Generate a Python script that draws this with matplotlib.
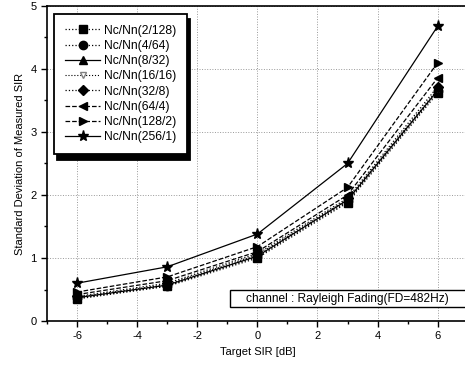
import matplotlib
matplotlib.use("Agg")
import matplotlib.pyplot as plt
from matplotlib.ticker import MultipleLocator
from matplotlib.patches import Rectangle

plt.rcParams['font.family'] = ['Liberation Sans', 'DejaVu Sans']
plt.rcParams['axes.unicode_minus'] = False

target_sir = [-6, -3, 0, 3, 6]
labels = ['Nc/Nn(2/128)', 'Nc/Nn(4/64)', 'Nc/Nn(8/32)', 'Nc/Nn(16/16)',
          'Nc/Nn(32/8)', 'Nc/Nn(64/4)', 'Nc/Nn(128/2)', 'Nc/Nn(256/1)']
sd_2_128 = [0.35, 0.55, 1.00, 1.88, 3.62]
sd_4_64 = [0.36, 0.56, 1.02, 1.90, 3.65]
sd_8_32 = [0.37, 0.57, 1.03, 1.92, 3.66]
sd_16_16 = [0.38, 0.58, 1.05, 1.93, 3.68]
sd_32_8 = [0.39, 0.60, 1.07, 1.95, 3.72]
sd_64_4 = [0.42, 0.64, 1.10, 2.00, 3.86]
sd_128_2 = [0.46, 0.70, 1.18, 2.12, 4.10]
sd_256_1 = [0.60, 0.86, 1.38, 2.50, 4.68]
series = [sd_2_128, sd_4_64, sd_8_32, sd_16_16, sd_32_8, sd_64_4, sd_128_2, sd_256_1]

markers = ['s', 'o', '^', 'v', 'D', '<', '>', '*']
styles = [':', ':', '-', ':', ':', '--', '--', '-']
msizes = [6, 6, 6, 4, 5, 6, 6, 8]

fig = plt.figure(figsize=(4.65, 3.69), dpi=100)
ax = fig.add_axes([0.101, 0.13, 0.905, 0.854])

for i in range(len(series)):
    if markers[i] == 'v':
        ax.plot(target_sir, series[i], linestyle=styles[i], color='k', lw=0.8,
                marker='v', ms=msizes[i], mfc='white', mec='gray', label=labels[i])
    else:
        ax.plot(target_sir, series[i], linestyle=styles[i], color='k', lw=0.9,
                marker=markers[i], ms=msizes[i], mfc='k', mec='k', label=labels[i])

ax.set_xlim(-7, 7)
ax.set_ylim(0, 5)
ax.xaxis.set_major_locator(MultipleLocator(2))
ax.xaxis.set_minor_locator(MultipleLocator(1))
ax.yaxis.set_major_locator(MultipleLocator(1))
ax.yaxis.set_minor_locator(MultipleLocator(0.5))
ax.tick_params(which='both', direction='out', labelsize=8, width=1)
ax.tick_params(which='major', length=4)
ax.tick_params(which='minor', length=2)
ax.grid(True, which='major', linestyle=':', color='#999999', lw=0.7)
for s in ax.spines.values():
    s.set_linewidth(1.2)

ax.set_xlabel('Target SIR [dB]', fontsize=8)
ax.set_ylabel('Standard Deviation of Measured SIR', fontsize=8)

leg = ax.legend(loc='upper left', bbox_to_anchor=(0.017, 0.975), fontsize=8.7,
                frameon=True, fancybox=False, edgecolor='k', framealpha=1,
                shadow={'color': 'k', 'alpha': 1, 'ox': 2, 'oy': -4},
                handlelength=2.9, handletextpad=0.3, labelspacing=0.27,
                borderpad=0.9, borderaxespad=0)
leg.get_frame().set_linewidth(1.3)

ax.add_patch(Rectangle((0.434, 0.044), 0.6, 0.054, transform=ax.transAxes,
                       fc='white', ec='k', lw=1, clip_on=False, zorder=5))
ax.text(0.714, 0.071, 'channel : Rayleigh Fading(FD=482Hz)', transform=ax.transAxes,
        ha='center', va='center', fontsize=8.6, zorder=6)

fig.savefig('out.png', dpi=100)
